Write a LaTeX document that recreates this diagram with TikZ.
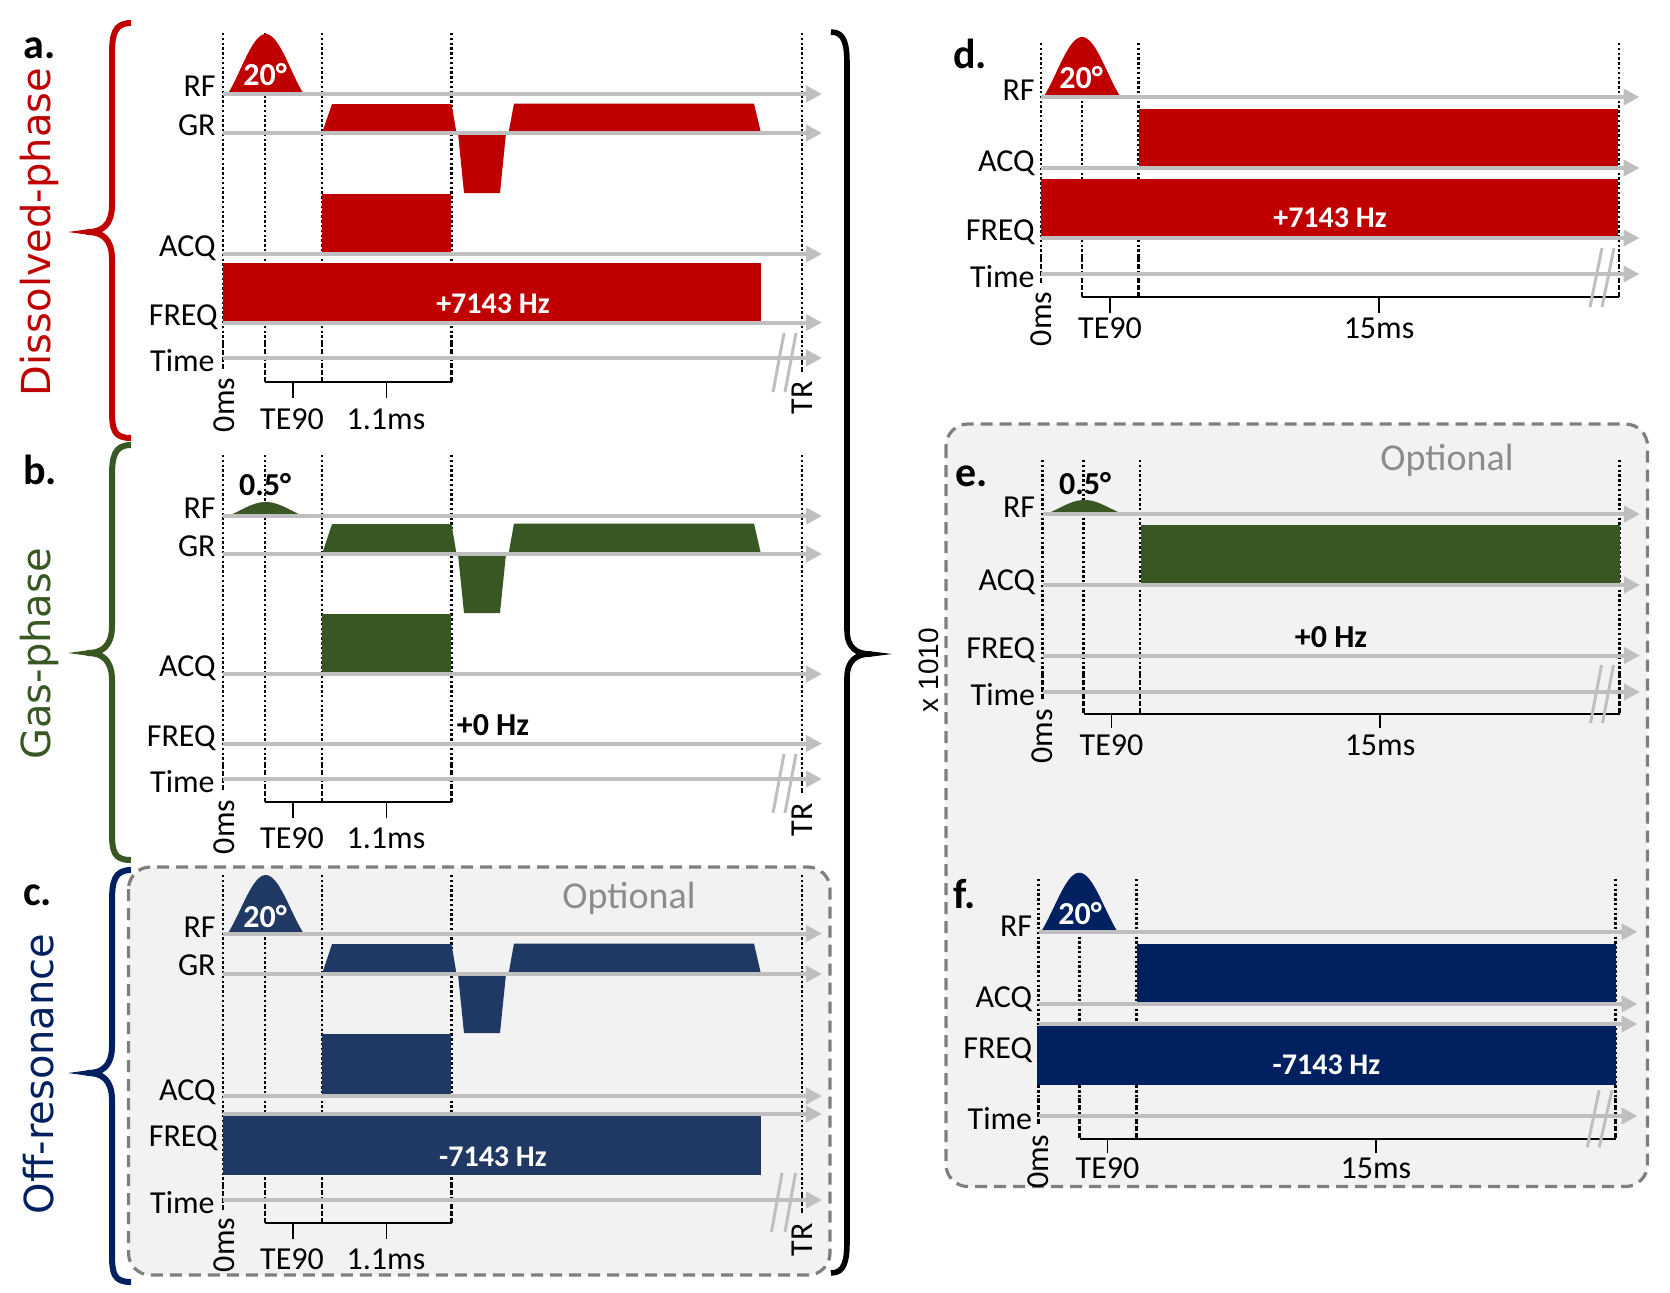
\documentclass[tikz,border=0pt]{standalone}
\usepackage{fontspec}
\setmainfont{Carlito}
\newfontfamily\sidefamily{DejaVu Sans}
\newfontfamily\multfamily{Liberation Sans}
\usetikzlibrary{arrows.meta}

\definecolor{dissred}{HTML}{C00000}
\definecolor{gasgreen}{HTML}{385723}
\definecolor{offnavy}{HTML}{203864}
\definecolor{deepnavy}{HTML}{002060}
\definecolor{axisgray}{HTML}{BFBFBF}
\definecolor{boxgray}{HTML}{7F7F7F}
\definecolor{boxfill}{HTML}{F2F2F2}
\definecolor{optgray}{HTML}{8C8C8C}

\newcommand{\chanfont}{\fontsize{16}{19}\selectfont}
\newcommand{\pulsefont}{\bfseries\fontsize{16}{19}\selectfont}
\newcommand{\hzfont}{\bfseries\fontsize{15}{18}\selectfont}
\newcommand{\letterfont}{\bfseries\fontsize{21}{25}\selectfont}
\newcommand{\sidefont}{\sidefamily\fontsize{20}{24}\selectfont}
\newcommand{\optfont}{\fontsize{19}{23}\selectfont}
\newcommand{\multfont}{\multfamily\fontsize{14}{17}\selectfont}

\tikzset{
  axis/.style={draw=axisgray, line width=2pt, -{Triangle[length=8pt,width=8pt]}},
  markline/.style={black, line width=1.4pt, dash pattern=on 1.2pt off 1.2pt},
  timeline/.style={black, line width=1.3pt, dash pattern=on 2.5pt off 1pt},
  bracket/.style={black, line width=0.9pt},
  breakmark/.style={axisgray, line width=1.5pt},
  curlybrace/.style={line width=3pt, line join=round},
  chan/.style={font=\chanfont, anchor=base east, inner sep=0pt},
  ticklabel/.style={font=\chanfont, inner sep=0pt},
  pulselabel/.style={font=\pulsefont, text=white, inner sep=0pt},
  hzlabel/.style={font=\hzfont, text=white, inner sep=0pt},
  panelletter/.style={font=\letterfont, anchor=base west, inner sep=0pt},
  sidetext/.style={font=\sidefont, rotate=90, inner sep=0pt},
  optlabel/.style={font=\optfont, text=optgray, inner sep=0pt},
  optbox/.style={draw=boxgray, fill=boxfill, line width=1.6pt, dash pattern=on 6pt off 3.5pt, rounded corners=11pt}
}

\begin{document}
\begin{tikzpicture}[x=0.5pt,y=-0.5pt]
\useasboundingbox (0,0) rectangle (1670,1292);

% optional boxes
\draw[optbox] (128.5,867) rectangle (830,1275);
\draw[optbox] (946,424) rectangle (1647.5,1186.5);

% side labels and braces
\node[sidetext, text=dissred] (dissolved) at (39,232) {Dissolved-phase};
\node[sidetext, text=gasgreen] (gasphase) at (39,654) {Gas-phase};
\node[sidetext, text=deepnavy] (offres) at (39,1074) {Off-resonance};
\draw[curlybrace, dissred] (131,23) .. controls (114,23) and (112,35) .. (112,55) -- (112,205) .. controls (112,225) and (102,232) .. (88,232) .. controls (102,232) and (112,239) .. (112,259) -- (112,410) .. controls (112,430) and (114,438) .. (131,438);
\fill[dissred] (90,229) -- (68,232) -- (90,235) -- cycle;
\draw[curlybrace, gasgreen] (131,445) .. controls (114,445) and (112,457) .. (112,477) -- (112,626) .. controls (112,646) and (102,653) .. (88,653) .. controls (102,653) and (112,660) .. (112,680) -- (112,832) .. controls (112,852) and (114,860) .. (131,860);
\fill[gasgreen] (90,650) -- (68,653) -- (90,656) -- cycle;
\draw[curlybrace, deepnavy] (131,870) .. controls (114,870) and (112,882) .. (112,902) -- (112,1046) .. controls (112,1066) and (102,1073) .. (88,1073) .. controls (102,1073) and (112,1080) .. (112,1100) -- (112,1254) .. controls (112,1274) and (114,1282) .. (131,1282);
\fill[deepnavy] (90,1070) -- (68,1073) -- (90,1076) -- cycle;
\draw[curlybrace, black, line width=2.8pt] (831,32) .. controls (845,32) and (847,45) .. (847,65) -- (847,630) .. controls (847,648) and (857,654) .. (870,654) .. controls (857,654) and (847,660) .. (847,678) -- (847,1240) .. controls (847,1260) and (845,1273) .. (831,1273);
\fill[black] (868,651) -- (892,654) -- (868,657) -- cycle;
\node[font=\multfont, rotate=90, inner sep=0pt] (repeats) at (928.5,670) {x 1010};

% panel letters
\node[panelletter] (lettera) at (23,58) {a.};
\node[panelletter] (letterb) at (23,484) {b.};
\node[panelletter] (letterc) at (23,905) {c.};
\node[panelletter] (letterd) at (953,68) {d.};
\node[panelletter] (lettere) at (955,486) {e.};
\node[panelletter] (letterf) at (953,908) {f.};

% ---------- a. dissolved-phase ----------
\draw[markline] (223,33) -- (223,343);
\draw[markline] (265,33) -- (265,342);
\draw[markline] (322,33) -- (322,342);
\draw[markline] (451.5,33) -- (451.5,342);
\draw[markline] (802,33) -- (802,353);
\draw[timeline] (223,343) -- (223,370);
\draw[timeline] (265,342) -- (265,382);
\draw[timeline] (322,342) -- (322,382);
\draw[timeline] (451.5,342) -- (451.5,382);
\draw[timeline] (802,353) -- (802,372);
\draw[bracket] (265,382) -- (451.5,382);
\draw[bracket] (293,382) -- (293,398);
\draw[bracket] (386.5,382) -- (386.5,398);
\fill[dissred] plot[domain=-1:1,samples=40] ({265.7+38*\x},{94-60*sin(180*\x)/(3.14159*\x)}) -- cycle;
\fill[dissred] (322,133) -- (332,104) -- (451.5,104) -- (456.5,133) -- cycle;
\fill[dissred] (458,133) -- (464,193) -- (500,193) -- (506,133) -- cycle;
\fill[dissred] (508.5,133) -- (514,103.5) -- (754,103.5) -- (761,133) -- cycle;
\fill[dissred] (321.5,194) rectangle (451,254);
\fill[dissred] (222.5,263) rectangle (761,321);
\draw[axis] (223,94) -- (822,94);
\draw[axis] (223,133) -- (822,133);
\draw[axis] (223,254) -- (822,254);
\draw[axis] (223,322.5) -- (822,322.5);
\draw[axis] (223,358) -- (822,358);
\draw[breakmark] (784,333) -- (773,392);
\draw[breakmark] (796,333) -- (785,392);
\node[chan] (rfa) at (216,96.5) {RF};
\node[chan] (gra) at (216,135.5) {GR};
\node[chan] (acqa) at (216,256.5) {ACQ};
\node[chan] (freqa) at (218,325) {FREQ};
\node[chan] (timea) at (215,371.5) {Time};
\node[pulselabel] (flipa) at (265,75) {20°};
\node[hzlabel] (hza) at (493,304) {+7143 Hz};
\node[ticklabel] (te90a) at (292,419) {TE90};
\node[ticklabel] (reada) at (386,419) {1.1ms};
\node[ticklabel, rotate=90] (zeroa) at (224,405) {0ms};
\node[ticklabel, rotate=90] (tra) at (802,398) {TR};

% ---------- b. gas-phase ----------
\begin{scope}[shift={(0,421)}]
\draw[markline] (223,34) -- (223,343);
\draw[markline] (265,34) -- (265,342);
\draw[markline] (322,34) -- (322,342);
\draw[markline] (451.5,34) -- (451.5,342);
\draw[markline] (802,34) -- (802,353);
\draw[timeline] (223,343) -- (223,370);
\draw[timeline] (265,342) -- (265,381);
\draw[timeline] (322,342) -- (322,381);
\draw[timeline] (451.5,342) -- (451.5,381);
\draw[timeline] (802,353) -- (802,372);
\draw[bracket] (265,381) -- (451.5,381);
\draw[bracket] (293,381) -- (293,397);
\draw[bracket] (386.5,381) -- (386.5,397);
\fill[gasgreen] plot[domain=-1:1,samples=40] ({265.7+38*\x},{95-14*sin(180*\x)/(3.14159*\x)}) -- cycle;
\fill[gasgreen] (322,133) -- (332,103) -- (451.5,103) -- (456.5,133) -- cycle;
\fill[gasgreen] (458,133) -- (464,192) -- (500,192) -- (506,133) -- cycle;
\fill[gasgreen] (508.5,133) -- (514,102.5) -- (754,102.5) -- (761,133) -- cycle;
\fill[gasgreen] (321.5,193) rectangle (451,252);
\draw[axis] (223,95) -- (822,95);
\draw[axis] (223,133) -- (822,133);
\draw[axis] (223,253) -- (822,253);
\draw[axis] (223,322.5) -- (822,322.5);
\draw[axis] (223,358) -- (822,358);
\draw[breakmark] (784,333) -- (773,392);
\draw[breakmark] (796,333) -- (785,392);
\node[chan] (rfb) at (216,97.5) {RF};
\node[chan] (grb) at (216,135.5) {GR};
\node[chan] (acqb) at (216,255.5) {ACQ};
\node[chan] (freqb) at (216,325) {FREQ};
\node[chan] (timeb) at (215,371.5) {Time};
\node[pulselabel, text=black] (flipb) at (265,64) {0.5°};
\node[hzlabel, text=black, font=\pulsefont] (hzb) at (493,304) {+0 Hz};
\node[ticklabel] (te90b) at (292,417) {TE90};
\node[ticklabel] (readb) at (386,417) {1.1ms};
\node[ticklabel, rotate=90] (zerob) at (224,406) {0ms};
\node[ticklabel, rotate=90] (trb) at (802,399) {TR};
\end{scope}

% ---------- c. off-resonance ----------
\begin{scope}[shift={(0,841)}]
\node[optlabel] (optc) at (629,57) {Optional};
\draw[markline] (223,34) -- (223,343);
\draw[markline] (265,34) -- (265,342);
\draw[markline] (322,34) -- (322,342);
\draw[markline] (451.5,34) -- (451.5,342);
\draw[markline] (802,34) -- (802,353);
\draw[timeline] (223,343) -- (223,370);
\draw[timeline] (265,342) -- (265,382);
\draw[timeline] (322,342) -- (322,382);
\draw[timeline] (451.5,342) -- (451.5,382);
\draw[timeline] (802,353) -- (802,372);
\draw[bracket] (265,382) -- (451.5,382);
\draw[bracket] (293,382) -- (293,398);
\draw[bracket] (386.5,382) -- (386.5,398);
\fill[offnavy] plot[domain=-1:1,samples=40] ({265.7+38*\x},{92.5-58.5*sin(180*\x)/(3.14159*\x)}) -- cycle;
\fill[offnavy] (322,133) -- (332,103) -- (451.5,103) -- (456.5,133) -- cycle;
\fill[offnavy] (458,133) -- (464,192) -- (500,192) -- (506,133) -- cycle;
\fill[offnavy] (508.5,133) -- (514,102.5) -- (754,102.5) -- (761,133) -- cycle;
\fill[offnavy] (321.5,193) rectangle (451,253);
\fill[offnavy] (222.5,275) rectangle (761,333.5);
\draw[axis] (223,92.5) -- (822,92.5);
\draw[axis] (223,133) -- (822,133);
\draw[axis] (223,255) -- (822,255);
\draw[axis] (223,273) -- (822,273);
\draw[axis] (223,359) -- (822,359);
\draw[breakmark] (782,332) -- (771.5,391);
\draw[breakmark] (795.5,332) -- (785,391);
\node[chan] (rfc) at (216,96) {RF};
\node[chan] (grc) at (216,134) {GR};
\node[chan] (acqc) at (216,259) {ACQ};
\node[chan] (freqc) at (218,305) {FREQ};
\node[chan] (timec) at (215,372.5) {Time};
\node[pulselabel] (flipc) at (265,75.5) {20°};
\node[hzlabel] (hzc) at (493,316) {-7143 Hz};
\node[ticklabel] (te90c) at (292,418) {TE90};
\node[ticklabel] (readc) at (386,418) {1.1ms};
\node[ticklabel, rotate=90] (zeroc) at (224,404) {0ms};
\node[ticklabel, rotate=90] (trc) at (802,399) {TR};
\end{scope}

% ---------- d. dissolved-phase spectroscopy ----------
\draw[markline] (1041,43) -- (1041,257);
\draw[markline] (1082,43) -- (1082,257);
\draw[markline] (1138.5,43) -- (1138.5,257);
\draw[markline] (1619,43) -- (1619,257);
\draw[timeline] (1041,257) -- (1041,283);
\draw[timeline] (1082,257) -- (1082,297);
\draw[timeline] (1138.5,257) -- (1138.5,297);
\draw[timeline] (1619,257) -- (1619,297);
\draw[bracket] (1082,297) -- (1619,297);
\draw[bracket] (1110,297) -- (1110,313);
\draw[bracket] (1379,297) -- (1379,313);
\fill[dissred] plot[domain=-1:1,samples=40] ({1082+38.5*\x},{97-60*sin(180*\x)/(3.14159*\x)}) -- cycle;
\fill[dissred] (1138.5,108.5) rectangle (1618,166);
\fill[dissred] (1041,178.5) rectangle (1618,236);
\draw[axis] (1041,97) -- (1639.5,97);
\draw[axis] (1041,168) -- (1639.5,168);
\draw[axis] (1041,238) -- (1639.5,238);
\draw[axis] (1041,274) -- (1639.5,274);
\draw[breakmark] (1602,248) -- (1590,307);
\draw[breakmark] (1614,248) -- (1602,307);
\node[chan] (rfd) at (1035,100) {RF};
\node[chan] (acqd) at (1035,171) {ACQ};
\node[chan] (freqd) at (1035,240.5) {FREQ};
\node[chan] (timed) at (1035,287) {Time};
\node[pulselabel] (flipd) at (1081,78) {20°};
\node[hzlabel] (hzd) at (1330,218) {+7143 Hz};
\node[ticklabel] (te90d) at (1110,328) {TE90};
\node[ticklabel] (readd) at (1379,328) {15ms};
\node[ticklabel, rotate=90] (zerod) at (1041,319) {0ms};

% ---------- e. gas-phase spectroscopy ----------
\node[optlabel] (opte) at (1447,460) {Optional};
\begin{scope}[shift={(1.5,417)}]
\draw[markline] (1041,43) -- (1041,256);
\draw[markline] (1082,43) -- (1082,256);
\draw[markline] (1138.5,43) -- (1138.5,256);
\draw[markline] (1618,43) -- (1618,256);
\draw[timeline] (1041,256) -- (1041,283);
\draw[timeline] (1082,256) -- (1082,297);
\draw[timeline] (1138.5,256) -- (1138.5,297);
\draw[timeline] (1618,256) -- (1618,297);
\draw[bracket] (1082,297) -- (1618,297);
\draw[bracket] (1110,297) -- (1110,311);
\draw[bracket] (1378.5,297) -- (1378.5,311);
\fill[gasgreen] plot[domain=-1:1,samples=40] ({1083+38.5*\x},{97-14*sin(180*\x)/(3.14159*\x)}) -- cycle;
\fill[gasgreen] (1139,108) rectangle (1618,166);
\draw[axis] (1041,97) -- (1638.5,97);
\draw[axis] (1041,168) -- (1638.5,168);
\draw[axis] (1041,238.5) -- (1638.5,238.5);
\draw[axis] (1041,275) -- (1638.5,275);
\draw[breakmark] (1600,248) -- (1589,306);
\draw[breakmark] (1612,248) -- (1601,306);
\node[chan] (rfe) at (1034,100) {RF};
\node[chan] (acqe) at (1034,173) {ACQ};
\node[chan] (freqe) at (1034,241) {FREQ};
\node[chan] (timee) at (1034,288) {Time};
\node[pulselabel, text=black] (flipe) at (1083.5,67) {0.5°};
\node[hzlabel, text=black, font=\pulsefont] (hze) at (1329.5,219.7) {+0 Hz};
\node[ticklabel] (te90e) at (1110,328) {TE90};
\node[ticklabel] (reade) at (1378.5,328) {15ms};
\node[ticklabel, rotate=90] (zeroe) at (1041,319.5) {0ms};
\end{scope}

% ---------- f. off-resonance spectroscopy ----------
\begin{scope}[shift={(-2.5,836)}]
\draw[markline] (1041,43) -- (1041,262);
\draw[markline] (1082,43) -- (1082,262);
\draw[markline] (1139,43) -- (1139,262);
\draw[markline] (1618,43) -- (1618,262);
\draw[timeline] (1041,262) -- (1041,290);
\draw[timeline] (1082,262) -- (1082,302.7);
\draw[timeline] (1139,262) -- (1139,302.7);
\draw[timeline] (1618,262) -- (1618,302.7);
\draw[bracket] (1082,302.7) -- (1618,302.7);
\draw[bracket] (1110,302.7) -- (1110,317.3);
\draw[bracket] (1378.3,302.7) -- (1378.3,317.3);
\fill[deepnavy] plot[domain=-1:1,samples=40] ({1081.8+38.3*\x},{95.7-59*sin(180*\x)/(3.14159*\x)}) -- cycle;
\fill[deepnavy] (1139,108.3) rectangle (1618,165.7);
\fill[deepnavy] (1039.5,190) rectangle (1618,248.7);
\draw[axis] (1041,95.7) -- (1640,95.7);
\draw[axis] (1041,168) -- (1640,168);
\draw[axis] (1041,188) -- (1640,188);
\draw[axis] (1041,280) -- (1640,280);
\draw[breakmark] (1601.7,254) -- (1589.7,311.3);
\draw[breakmark] (1614.5,254) -- (1601.7,311.3);
\node[chan] (rff) at (1035,100) {RF};
\node[chan] (acqf) at (1035,171) {ACQ};
\node[chan] (freqf) at (1035,222) {FREQ};
\node[chan] (timef) at (1035,293) {Time};
\node[pulselabel] (flipf) at (1082.5,77.3) {20°};
\node[hzlabel] (hzf) at (1329,229) {-7143 Hz};
\node[ticklabel] (te90f) at (1110,332.3) {TE90};
\node[ticklabel] (readf) at (1378.3,332.3) {15ms};
\node[ticklabel, rotate=90] (zerof) at (1041,325.7) {0ms};
\end{scope}
\end{tikzpicture}
\end{document}
